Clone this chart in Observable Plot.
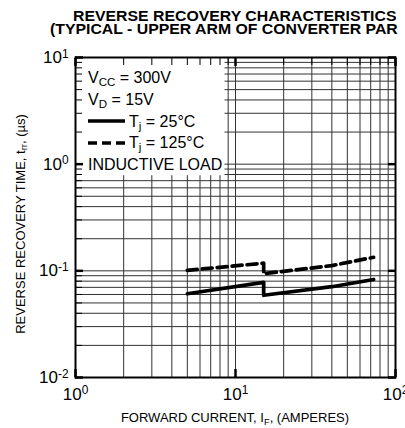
<!DOCTYPE html>
<html><head><meta charset="utf-8">
<script src="https://cdn.jsdelivr.net/npm/d3@7"></script>
<script src="https://cdn.jsdelivr.net/npm/@observablehq/plot@0.6"></script>
<style>
html,body{margin:0;padding:0;background:#fff;}
#wrap{position:relative;width:405px;height:428px;overflow:hidden;font-family:"Liberation Sans",Arial,Helvetica,sans-serif;color:#000;}
#wrap > svg{position:absolute;left:0;top:0;}
.title{position:absolute;font-weight:bold;font-size:14px;white-space:nowrap;line-height:12px;transform-origin:0 0;transform:scaleX(1.13);}
#legend{position:absolute;left:88px;top:67px;font-size:16px;line-height:21.8px;white-space:nowrap;}
#legend svg{vertical-align:middle;margin-right:4px;position:relative;top:-1px;}
sub{font-size:0.72em;vertical-align:-0.28em;line-height:0;}
.axlabel{position:absolute;font-size:13px;white-space:nowrap;line-height:1;}
</style></head><body><div id="wrap"></div>
<script>
// grid / tick values
const xGrid = [2,3,4,5,6,7,8,9,10,20,30,40,50,60,70,80,90];
const yGrid = [0.02,0.03,0.04,0.05,0.06,0.07,0.08,0.09,0.1,0.2,0.3,0.4,0.5,0.6,0.7,0.8,0.9,1,2,3,4,5,6,7,8,9];
const xMajor = [1,10,100];
const yMajor = [0.01,0.1,1,10];
// series: forward current (A) and reverse recovery time (µs)
const current25 = [5, 15, 15, 40, 73];
const trr25 = [0.061, 0.078, 0.059, 0.071, 0.083];
const current125 = [5, 15, 15, 40, 73];
const trr125 = [0.101, 0.118, 0.094, 0.112, 0.134];
// legend background area (data units)
const legendArea = {x1: 1, x2: 8.6, y1: 0.78, y2: 10};

const s25 = current25.map((x, i) => ({x, y: trr25[i]}));
const s125 = current125.map((x, i) => ({x, y: trr125[i]}));
const expFmt = d => "10^" + Math.round(Math.log10(d));
const blank = () => "";

const chart = Plot.plot({
  width: 405, height: 428,
  marginLeft: 75, marginRight: 10, marginTop: 57, marginBottom: 51,
  x: {type: "log", domain: [1, 100]},
  y: {type: "log", domain: [0.01, 10]},
  style: {background: "transparent", fontFamily: "'Liberation Sans', Arial, sans-serif", color: "#000", overflow: "visible"},
  marks: [
    Plot.ruleX(xGrid, {x: d => d, stroke: "#333", strokeWidth: 1}),
    Plot.ruleY(yGrid, {y: d => d, stroke: "#333", strokeWidth: 1}),
    Plot.rect([legendArea], {x1: "x1", x2: "x2", y1: "y1", y2: "y2", fill: "white"}),
    Plot.axisX({anchor: "top", ticks: xGrid, tickSize: -7, tickFormat: blank, label: null}),
    Plot.axisY({anchor: "left", ticks: yGrid, tickSize: -7, tickFormat: blank, label: null}),
    Plot.axisX({anchor: "top", ticks: xMajor, tickSize: -8, strokeWidth: 2.5, tickFormat: blank, label: null}),
    Plot.axisX({anchor: "bottom", ticks: xMajor, tickSize: -8, strokeWidth: 2.5, tickFormat: blank, label: null}),
    Plot.axisY({anchor: "left", ticks: yMajor, tickSize: -8, strokeWidth: 2.5, tickFormat: blank, label: null}),
    Plot.axisY({anchor: "right", ticks: yMajor, tickSize: -8, strokeWidth: 2.5, tickFormat: blank, label: null}),
    Plot.axisX({anchor: "bottom", ticks: xMajor, tickSize: 0, tickPadding: 10, tickFormat: expFmt, fontSize: 17, label: null}),
    Plot.axisY({anchor: "left", ticks: yMajor, tickSize: 0, tickPadding: 7, tickFormat: expFmt, fontSize: 17, label: null}),
    Plot.frame({stroke: "#000", strokeWidth: 2}),
    Plot.line(s25, {x: "x", y: "y", stroke: "#000", strokeWidth: 3.7}),
    Plot.line(s125, {x: "x", y: "y", stroke: "#000", strokeWidth: 3.7, strokeDasharray: "10,5"})
  ]
});

d3.select(chart).selectAll("text").each(function() {
  const t = d3.select(this);
  const s = t.text();
  if (!s.includes("^")) return;
  const [b, e] = s.split("^");
  t.text(null);
  t.append("tspan").text(b);
  t.append("tspan").attr("dy", "-0.45em").attr("font-size", "0.7em").text(e);
});

const wrap = document.getElementById("wrap");
wrap.appendChild(chart);
wrap.insertAdjacentHTML("beforeend", `
<div class="title" style="left:73px;top:10px;">REVERSE RECOVERY CHARACTERISTICS</div>
<div class="title" style="left:50px;top:23px;">(TYPICAL - UPPER ARM OF CONVERTER PAR</div>
<div id="legend">
<div>V<sub>CC</sub> = 300V</div>
<div>V<sub>D</sub> = 15V</div>
<div><svg width="37" height="8"><line x1="0" x2="37" y1="4" y2="4" stroke="#000" stroke-width="3.5"/></svg>T<sub>j</sub> = 25°C</div>
<div><svg width="37" height="8"><line x1="0" x2="37" y1="4" y2="4" stroke="#000" stroke-width="3.5" stroke-dasharray="9,5"/></svg>T<sub>j</sub> = 125°C</div>
<div>INDUCTIVE LOAD</div>
</div>
<div class="axlabel" style="left:235px;top:411px;transform:translateX(-50%);">FORWARD CURRENT, I<sub>F</sub>, (AMPERES)</div>
<div class="axlabel" style="left:20px;top:224px;transform:translate(-50%,-50%) rotate(-90deg);">REVERSE RECOVERY TIME, t<sub>rr</sub>, (µs)</div>
`);
</script></body></html>
